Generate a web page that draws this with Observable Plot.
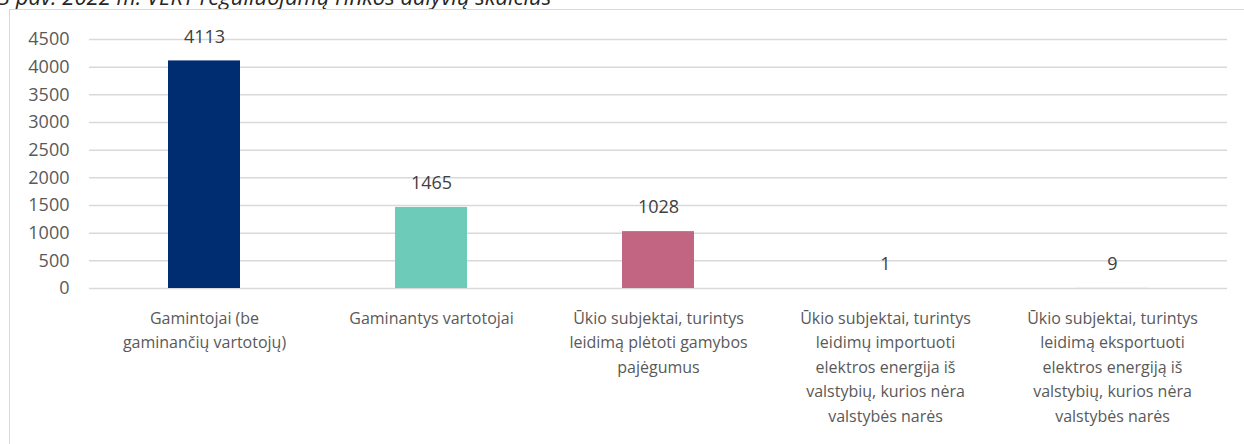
<!DOCTYPE html>
<html>
<head>
<meta charset="utf-8">
<script src="https://cdn.jsdelivr.net/npm/d3@7"></script>
<script src="https://cdn.jsdelivr.net/npm/@observablehq/plot@0.6"></script>
<style>
  html, body { margin: 0; padding: 0; background: #fff; overflow: hidden; }
  #wrap { position: relative; width: 1244px; height: 444px; overflow: hidden; }
  #title { position: absolute; left: -2px; top: -15px; font-family: "Open Sans", sans-serif; font-style: italic; font-size: 22px; line-height: 22px; color: #262626; white-space: nowrap; }
  #frame { position: absolute; left: 9px; top: 9px; width: 1260px; height: 500px; border: 1px solid #d9d9d9; box-sizing: border-box; }
  #chart { position: absolute; left: 0; top: 0; }
</style>
</head>
<body>
<div id="wrap">
  <div id="title">3 pav. 2022 m. VERT reguliuojamų rinkos dalyvių skaičius</div>
  <div id="frame"></div>
  <div id="chart"></div>
</div>
<script>
const categories = [
  "Gamintojai (be\ngaminančių vartotojų)",
  "Gaminantys vartotojai",
  "Ūkio subjektai, turintys\nleidimą plėtoti gamybos\npajėgumus",
  "Ūkio subjektai, turintys\nleidimų importuoti\nelektros energija iš\nvalstybių, kurios nėra\nvalstybės narės",
  "Ūkio subjektai, turintys\nleidimą eksportuoti\nelektros energiją iš\nvalstybių, kurios nėra\nvalstybės narės"
];
const values = [4113, 1465, 1028, 1, 9];
const barColors = ["#002D72", "#6DCBB9", "#C26582", "#E6E6E6", "#E6E6E6"];
const yTicks = [0, 500, 1000, 1500, 2000, 2500, 3000, 3500, 4000, 4500];

const data = categories.map((c, i) => ({cat: c, value: values[i], color: barColors[i]}));

const chart = Plot.plot({
  width: 1244,
  height: 444,
  marginLeft: 89,
  marginRight: 17,
  marginTop: 39,
  marginBottom: 156,
  style: {fontFamily: "'Open Sans', sans-serif", color: "#595959", background: "transparent", overflow: "visible"},
  x: {domain: categories, paddingInner: 0.682, paddingOuter: 0.341},
  y: {domain: [0, 4500]},
  marks: [
    Plot.ruleY(yTicks, {stroke: "#d9d9d9", strokeWidth: 1.5}),
    Plot.barY(data, {x: "cat", y: "value", fill: "color"}),
    Plot.text(data, {x: "cat", y: "value", text: d => String(d.value), dy: -24, fontSize: 18, fill: "#404040"}),
    Plot.axisY(yTicks, {tickSize: 0, tickPadding: 20, fontSize: 18, label: null, fill: "#595959", tickFormat: d => String(d)}),
    Plot.axisX({tickSize: 0, tickPadding: 18, fontSize: 16, lineHeight: 1.53, label: null, fill: "#595959"})
  ]
});
document.getElementById("chart").appendChild(chart);
</script>
</body>
</html>
